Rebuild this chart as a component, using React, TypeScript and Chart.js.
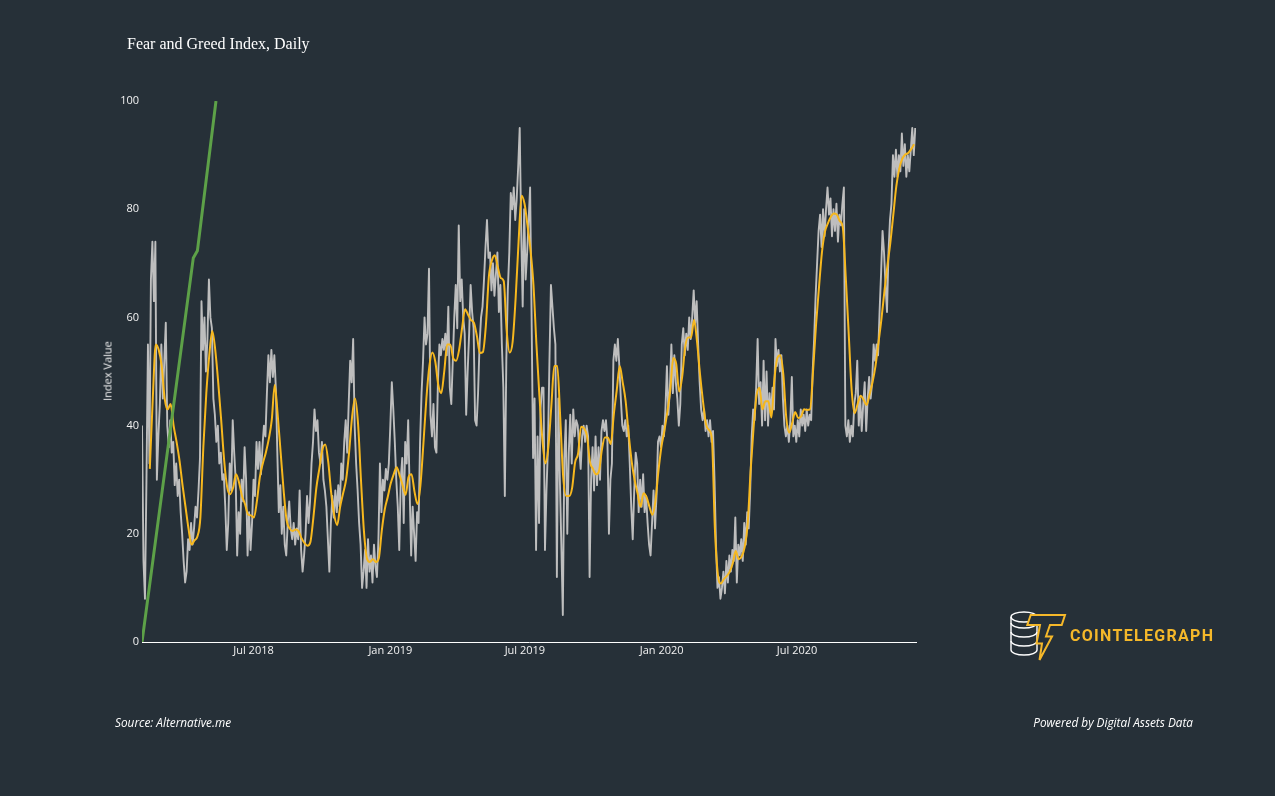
import React, { useEffect, useRef } from 'react';
import { Chart, registerables } from 'chart.js';

Chart.register(...registerables);

// Days are counted from 1 Feb 2018.
const grayStartDay = 0;
const grayStepDays = 2;
const grayValues = [
  40, 15, 8, 30, 55, 33, 67, 74, 63, 74,
  30, 38, 44, 55, 45, 52, 59, 40, 36, 41,
  35, 37, 29, 33, 27, 30, 24, 20, 15, 11,
  13, 19, 17, 22, 18, 21, 25, 23, 28, 34,
  63, 54, 60, 50, 56, 67, 60, 58, 45, 42,
  37, 40, 33, 35, 30, 31, 25, 17, 22, 33,
  28, 41, 35, 30, 16, 24, 20, 30, 26, 36,
  30, 16, 24, 17, 22, 30, 27, 37, 32, 37,
  31, 36, 40, 38, 46, 53, 48, 54, 49, 53,
  47, 35, 24, 29, 20, 25, 18, 16, 22, 26,
  21, 19, 22, 18, 21, 19, 28, 17, 13, 16,
  20, 27, 22, 26, 33, 37, 43, 39, 41, 35,
  33, 37, 30, 28, 25, 19, 13, 22, 27, 23,
  28, 24, 29, 25, 33, 30, 37, 41, 35, 44,
  52, 48, 56, 40, 33, 28, 22, 18, 10, 13,
  17, 10, 19, 13, 16, 11, 18, 14, 12, 19,
  33, 24, 30, 28, 32, 30, 33, 40, 48, 43,
  37, 30, 25, 17, 30, 34, 22, 37, 33, 41,
  28, 16, 25, 20, 15, 24, 22, 37, 46, 52,
  60, 55, 57, 69, 42, 38, 44, 36, 35, 48,
  55, 53, 56, 54, 57, 53, 62, 47, 44, 52,
  60, 66, 58, 77, 63, 67, 60, 57, 42, 50,
  57, 66, 61, 58, 41, 40, 46, 55, 60, 62,
  67, 73, 78, 71, 72, 65, 70, 64, 68, 72,
  61, 66, 55, 47, 27, 52, 65, 72, 83, 80,
  84, 78, 82, 88, 95, 76, 62, 80, 67, 72,
  78, 84, 60, 34, 45, 17, 38, 22, 43, 47,
  47, 17, 28, 36, 52, 66, 62, 58, 55, 12,
  45, 30, 18, 5, 34, 41, 20, 35, 42, 33,
  43, 38, 41, 40, 36, 32, 38, 40, 37, 40,
  38, 12, 30, 36, 28, 38, 29, 36, 30, 39,
  41, 39, 41, 37, 20, 30, 33, 52, 55, 52,
  56, 51, 45, 40, 39, 41, 38, 40, 33, 25,
  19, 28, 35, 33, 24, 30, 25, 31, 24, 27,
  22, 18, 16, 22, 28, 21, 27, 37, 38, 36,
  40, 38, 43, 51, 42, 47, 55, 46, 53, 48,
  45, 40, 44, 55, 58, 53, 57, 54, 60, 56,
  60, 65, 59, 63, 55, 48, 43, 41, 43, 39,
  41, 38, 41, 37, 39, 30, 18, 10, 12, 8,
  10, 13, 9, 15, 11, 16, 13, 17, 15, 23,
  11, 18, 16, 19, 15, 22, 18, 24, 21, 28,
  38, 43, 41, 47, 56, 44, 48, 40, 52, 41,
  50, 40, 46, 42, 47, 43, 56, 51, 54, 50,
  53, 45, 40, 38, 40, 37, 41, 49, 38, 40,
  37, 41, 38, 43, 40, 42, 39, 43, 40, 42,
  41, 50, 56, 64, 70, 76, 79, 73, 80, 75,
  80, 84, 79, 82, 75, 80, 76, 81, 74, 79,
  77, 81, 84, 40, 38, 41, 37, 40, 38, 44,
  46, 52, 40, 45, 39, 44, 48, 39, 45, 49,
  45, 48, 55, 52, 55, 53, 61, 68, 76, 72,
  66, 61, 72, 78, 81, 90, 86, 91, 86, 90,
  87, 94, 88, 92, 86, 90, 87, 91, 95, 90,
  95,
];

const orangeStartDay = 10.5;
const orangeStepDays = 4;
const orangeValues = [
  32, 45, 55, 54, 51, 45, 43, 44, 40, 37,
  33.5, 29, 25, 21, 18, 18.8, 19.5, 23, 36, 46,
  53, 57.5, 54, 48, 41, 33.6, 28.7, 27.3, 28.5, 31,
  29.5, 27, 25.5, 23.6, 23.4, 23, 26, 30.5, 33, 35,
  37.5, 41, 47.5, 42, 35, 28, 22.5, 21, 20.5, 20.8,
  20.5, 19.2, 18.3, 17.8, 18.5, 23, 28.5, 32, 35.5, 36.5,
  33.3, 27.5, 23.5, 21.6, 25, 27.5, 30, 35, 41.5, 45,
  40.5, 30, 20.5, 15.5, 14.8, 15.3, 14.8, 15.5, 20.6, 24.5,
  26.8, 29.3, 31, 32.3, 30.8, 29, 27.2, 30.5, 31, 27.8,
  25.5, 29, 36.7, 45, 51, 53.5, 51.8, 47.5, 46, 50,
  55, 55, 52.5, 52, 54, 58, 61.5, 60.5, 59.5, 59,
  56.5, 53.4, 53.6, 58.5, 67.5, 70.5, 71.5, 69.3, 67.3, 66.7,
  57.5, 53.5, 55.5, 63.5, 74, 82.5, 81, 77, 72.5, 66,
  55, 45.5, 37.5, 33, 36, 43.5, 51, 51, 41.5, 30.5,
  27, 27, 28.5, 33.2, 34.8, 39.8, 39.5, 38.1, 33.3, 32,
  31, 31.5, 35.5, 37.8, 37.8, 36.6, 42, 46.5, 51, 48,
  44.5, 38.5, 33.5, 30, 27.5, 25, 27.5, 26.8, 25, 23.5,
  26, 31.5, 36, 39, 42.5, 46.5, 52.5, 51.4, 46.3, 49,
  54.5, 56.3, 56.3, 59.5, 55.5, 49.5, 44.5, 40.3, 39.2, 37.5,
  21, 12.5, 10.8, 11.6, 12.2, 13, 14.5, 16.8, 15.3, 15.8,
  17.5, 21.6, 31.5, 39.5, 45.5, 47, 43, 44.5, 44.5, 41.5,
  48.5, 52.5, 53, 49.5, 41.5, 38.7, 40.5, 42.5, 41.4, 41.7,
  43, 42.9, 43, 50, 58.5, 65.5, 72, 75.8, 77.4, 78.6,
  79.2, 79, 77.8, 76.7, 67.5, 57, 46.5, 42.3, 44, 45.5,
  44.8, 43.8, 45.7, 48, 51, 55.3, 59.7, 64.8, 69.5, 73.8,
  79, 84.2, 87.5, 89.3, 90.1, 90.4, 91.1, 92,
];

const greenDays = [0, 69, 74.5, 99.5];
const greenValues = [0, 71, 72.3, 100];

const xMaxDay = 1041;
const xTickDays = [150, 334, 515, 699, 881];
const xTickLabels = ['Jul 2018', 'Jan 2019', 'Jul 2019', 'Jan 2020', 'Jul 2020'];
const yTickValues = [0, 20, 40, 60, 80, 100];

const BG = '#263038';
const GOLD = '#f5b82a';
const TICK_FONT = '"Open Sans", "Noto Sans", sans-serif';

export default function App() {
  const canvasRef = useRef<HTMLCanvasElement | null>(null);

  useEffect(() => {
    const canvas = canvasRef.current;
    if (!canvas) return;

    const grayData = grayValues.map((v, i) => ({ x: grayStartDay + i * grayStepDays, y: v }));
    const orangeData = orangeValues.map((v, i) => ({ x: orangeStartDay + i * orangeStepDays, y: v }));
    const greenData = greenValues.map((v, i) => ({ x: greenDays[i], y: v }));

    const chart = new Chart(canvas, {
      type: 'line',
      data: {
        datasets: [
          {
            data: grayData,
            borderColor: 'rgb(190,190,190)',
            borderWidth: 1.9,
            pointRadius: 0,
            tension: 0,
            borderJoinStyle: 'round',
            order: 3,
          },
          {
            data: orangeData,
            borderColor: 'rgb(247,184,30)',
            borderWidth: 2,
            pointRadius: 0,
            tension: 0.3,
            cubicInterpolationMode: 'monotone',
            borderJoinStyle: 'round',
            order: 2,
          },
          {
            data: greenData,
            borderColor: 'rgb(93,161,72)',
            borderWidth: 3,
            pointRadius: 0,
            tension: 0,
            order: 1,
          },
        ],
      },
      options: {
        animation: false,
        responsive: false,
        maintainAspectRatio: false,
        events: [],
        layout: { padding: { left: 0, right: 359, top: 101, bottom: 124 } },
        plugins: {
          legend: { display: false },
          tooltip: { enabled: false },
          title: { display: false },
        },
        scales: {
          x: {
            type: 'linear',
            min: 0,
            max: xMaxDay,
            grid: { display: false, drawTicks: false },
            border: { display: true, color: '#ffffff', width: 1 },
            ticks: {
              color: '#f2f2f2',
              font: { family: TICK_FONT, size: 11 },
              padding: 2,
              maxRotation: 0,
              autoSkip: false,
              callback: (value: any) => {
                const i = xTickDays.indexOf(Number(value));
                return i >= 0 ? xTickLabels[i] : '';
              },
            },
            afterBuildTicks: (scale: any) => {
              scale.ticks = xTickDays.map((v) => ({ value: v }));
            },
            afterFit: (scale: any) => {
              scale.height = 30;
            },
          },
          y: {
            type: 'linear',
            min: 0,
            max: 100,
            grid: { display: false, drawTicks: false },
            border: { display: false },
            ticks: {
              color: '#f2f2f2',
              font: { family: TICK_FONT, size: 11 },
              padding: 3,
              callback: (value: any) => String(value),
            },
            afterBuildTicks: (scale: any) => {
              scale.ticks = yTickValues.map((v) => ({ value: v }));
            },
            afterFit: (scale: any) => {
              scale.width = 142;
            },
          },
        },
      } as any,
    });

    return () => {
      chart.destroy();
    };
  }, []);

  return (
    <div
      style={{
        position: 'absolute',
        left: 0,
        top: 0,
        width: 1275,
        height: 796,
        background: BG,
        overflow: 'hidden',
      }}
    >
      <canvas
        ref={canvasRef}
        width={1275}
        height={796}
        style={{ position: 'absolute', left: 0, top: 0, width: 1275, height: 796, display: 'block' }}
      />
      <div
        style={{
          position: 'absolute',
          left: 127,
          top: 36,
          fontFamily: '"Liberation Serif", "Times New Roman", serif',
          fontSize: 16,
          lineHeight: 1,
          color: '#ffffff',
          whiteSpace: 'nowrap',
        }}
      >
        Fear and Greed Index, Daily
      </div>
      <div
        style={{
          position: 'absolute',
          left: 107,
          top: 371,
          transform: 'translate(-50%, -50%) rotate(-90deg)',
          fontFamily: TICK_FONT,
          fontSize: 11,
          lineHeight: 1,
          color: '#f2f2f2',
          whiteSpace: 'nowrap',
        }}
      >
        Index Value
      </div>
      <div
        style={{
          position: 'absolute',
          left: 115,
          top: 717,
          fontFamily: TICK_FONT,
          fontStyle: 'italic',
          fontSize: 11.8,
          lineHeight: 1,
          color: '#ffffff',
          whiteSpace: 'nowrap',
        }}
      >
        Source: Alternative.me
      </div>
      <div
        style={{
          position: 'absolute',
          right: 1275 - 1193,
          top: 717,
          fontFamily: TICK_FONT,
          fontStyle: 'italic',
          fontSize: 11.8,
          lineHeight: 1,
          color: '#ffffff',
          whiteSpace: 'nowrap',
        }}
      >
        Powered by Digital Assets Data
      </div>
      <svg
        width={80}
        height={70}
        viewBox="0 0 80 70"
        style={{ position: 'absolute', left: 1000, top: 600 }}
      >
        <g fill="none" stroke="#ffffff" strokeWidth={1.4}>
          <ellipse cx={24} cy={17} rx={13} ry={5} />
          <path d="M11,17 L11,50" />
          <path d="M37,17 L37,50" />
          <path d="M11,23 A13,5 0 0 0 37,23" />
          <path d="M11,32 A13,5 0 0 0 37,32" />
          <path d="M11,41 A13,5 0 0 0 37,41" />
          <path d="M11,50 A13,5 0 0 0 37,50" />
        </g>
        <polygon
          points="30.7,15 65,15 61.7,25 50,25 46,36.5 52,36.5 39.5,60 42,43.5 36.5,43.5 40,25 27.3,25"
          fill={BG}
          stroke={GOLD}
          strokeWidth={2}
          strokeLinejoin="miter"
        />
      </svg>
      <div
        style={{
          position: 'absolute',
          left: 1070,
          top: 628,
          fontFamily: 'Roboto, "Open Sans", sans-serif',
          fontWeight: 700,
          fontSize: 16,
          lineHeight: 1,
          letterSpacing: 1.3,
          color: GOLD,
          whiteSpace: 'nowrap',
        }}
      >
        COINTELEGRAPH
      </div>
    </div>
  );
}
